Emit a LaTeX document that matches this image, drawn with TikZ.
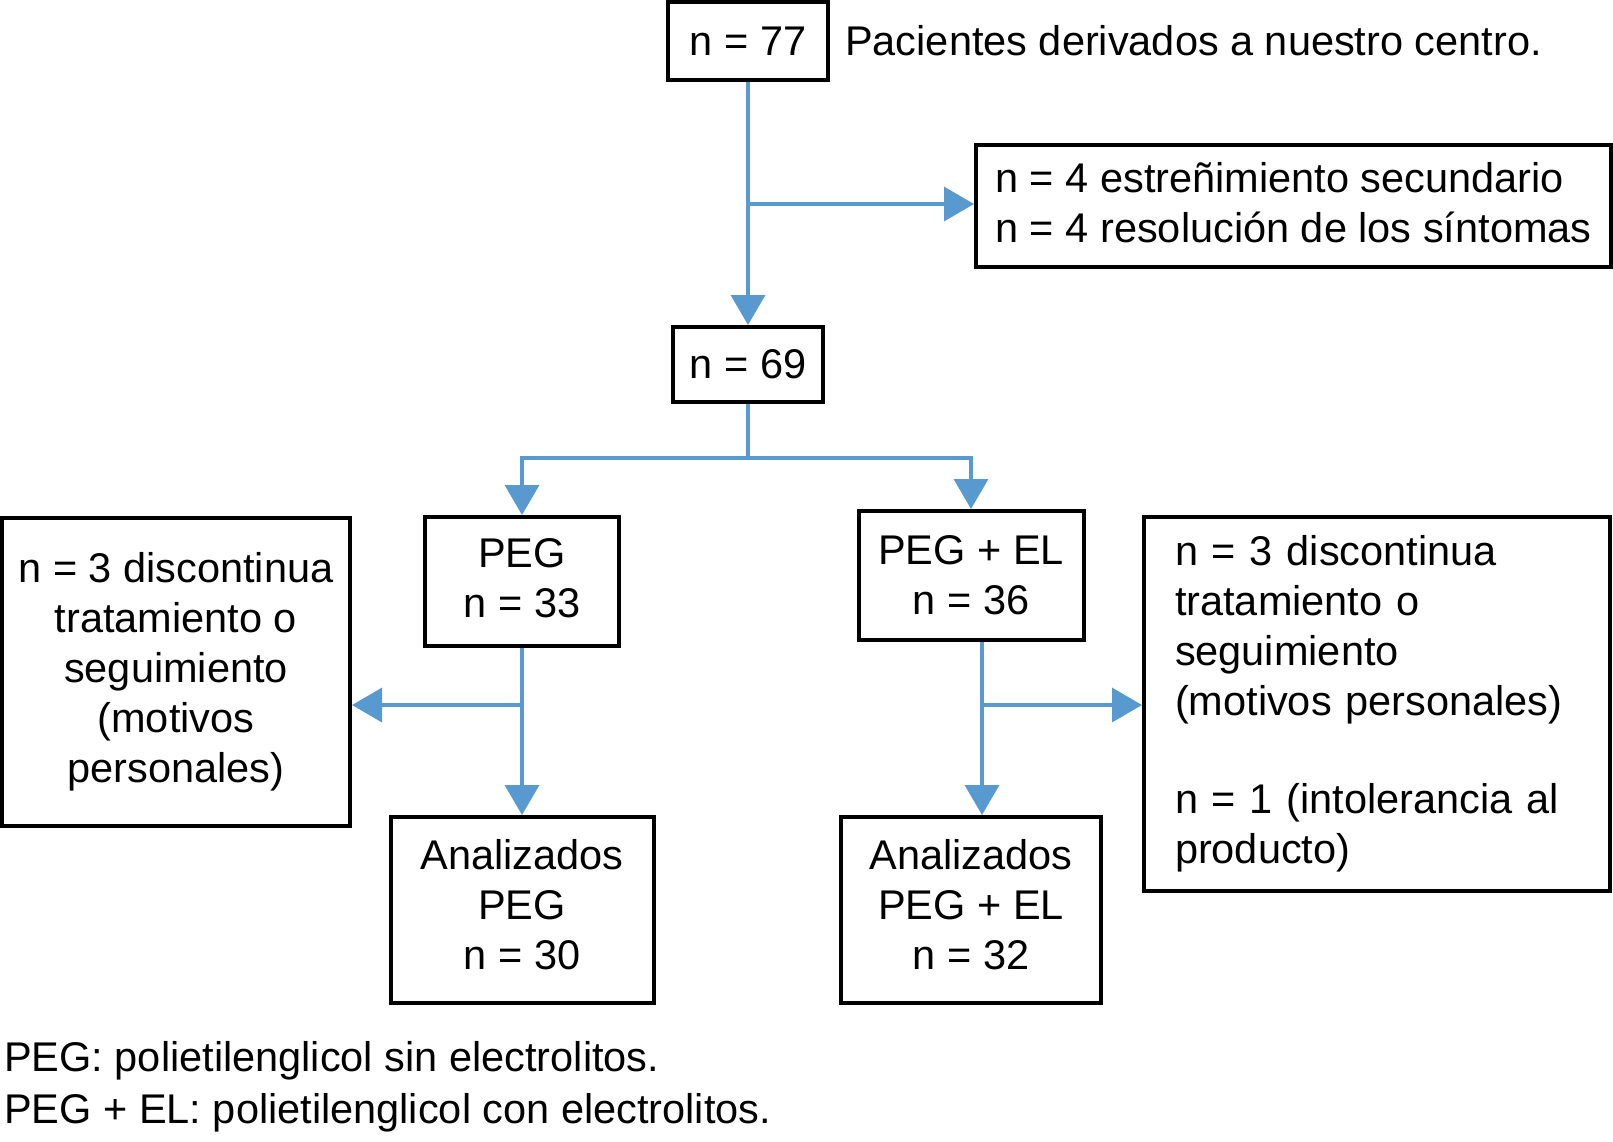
\documentclass[tikz,border=0pt]{standalone}
\usepackage{fontspec}
\setmainfont{Liberation Sans}
\usetikzlibrary{arrows.meta,calc}
\definecolor{arrowblue}{RGB}{88,154,208}
\begin{document}
\begin{tikzpicture}[x=1pt,y=-1pt,
  txt/.style={font=\fontsize{41.5}{50}\selectfont, inner sep=0pt},
  box/.style={draw=black, line width=4pt, rectangle, inner sep=0pt, txt, align=center},
  arr/.style={draw=arrowblue, line width=3.5pt, -{Triangle[width=34pt,length=30pt]}},
  conn/.style={draw=arrowblue, line width=3.5pt}]
\useasboundingbox (0,0) rectangle (1613,1141);

% nodes
\node[box, minimum width=160pt, minimum height=78pt] (b77) at (748,41) {n = 77};
\node[txt, anchor=west] (lbl77) at (845,41) {Pacientes derivados a nuestro centro.};
\node[box, minimum width=635pt, minimum height=122pt, align=left, text depth=7pt] (bexc) at (1293.5,206)
  {n = 4 estreñimiento secundario\\n = 4 resolución de los síntomas};
\node[box, minimum width=150pt, minimum height=75pt] (b69) at (748,364.5) {n = 69};
\node[box, minimum width=194pt, minimum height=129pt, text depth=8pt] (bpeg) at (522,581.5) {PEG\\n = 33};
\node[box, minimum width=225pt, minimum height=129pt] (bpegel) at (971,575.5) {PEG + EL\\n = 36};
\node[box, minimum width=348pt, minimum height=308pt] (bleft) at (176,672)
  {n = 3 discontinua\\tratamiento o\\seguimiento\\(motivos\\personales)};
\node[box, minimum width=263pt, minimum height=186pt, text depth=12pt] (banpeg) at (522,910) {Analizados\\PEG\\n = 30};
\node[box, minimum width=260pt, minimum height=186pt, text depth=12pt] (banel) at (971,910) {Analizados\\PEG + EL\\n = 32};
\node[box, minimum width=466pt, minimum height=374pt, text width=404pt, align=left] (bright) at (1377,704)
  {n = 3 discontinua\\tratamiento o\\seguimiento\\(motivos personales)\\[48pt]n = 1 (intolerancia al\\producto)};
\node[txt, anchor=west] (fn1) at (4,1061) {PEG: polietilenglicol sin electrolitos.};
\node[txt, anchor=west] (fn2) at (4,1113) {PEG + EL: polietilenglicol con electrolitos.};

% connectors
\coordinate (j1) at (748,204);
\draw[arr] (b77.south) -- (b69.north);
\draw[arr] (j1) -- (j1 -| bexc.west);

\coordinate (j2) at (748,458);
\draw[conn] (b69.south) -- (j2);
\draw[arr] (j2) -| (bpeg.north);
\draw[arr] (j2) -| (bpegel.north);

\coordinate (j3) at (522,705);
\draw[arr] (bpeg.south) -- (banpeg.north);
\draw[arr] (j3) -- (j3 -| bleft.east);

\coordinate (cr) at (982,0);
\coordinate (j4) at (982,705);
\draw[arr] (bpegel.south -| cr) -- (banel.north -| cr);
\draw[arr] (j4) -- (j4 -| bright.west);
\end{tikzpicture}
\end{document}
